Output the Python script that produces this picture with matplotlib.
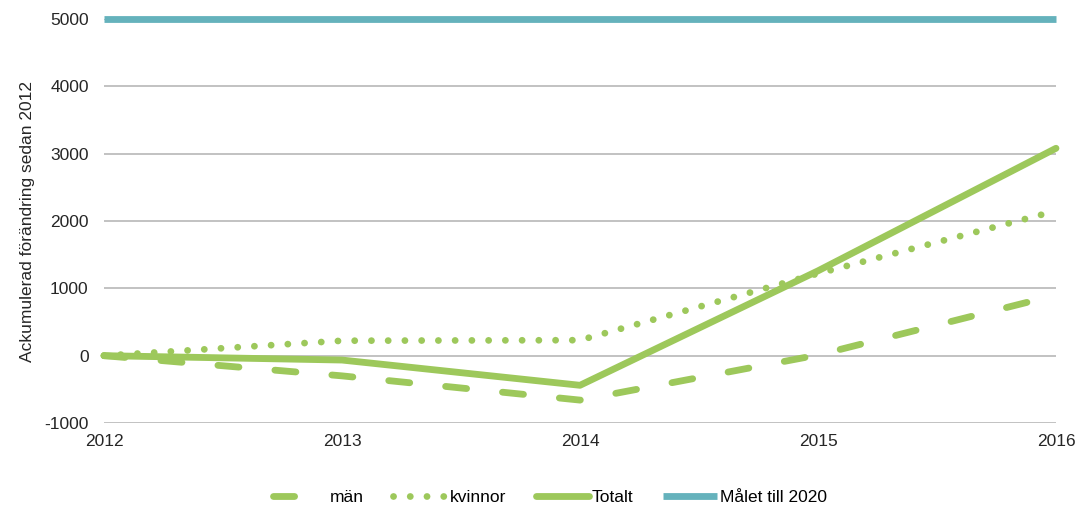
import matplotlib.pyplot as plt
import numpy as np

plt.rcParams['font.family'] = ['Liberation Sans', 'DejaVu Sans']
plt.rcParams['axes.unicode_minus'] = False

# data
years = [2012, 2013, 2014, 2015, 2016]
man = [0, -300, -660, 10, 900]
kvinnor = [0, 222, 230, 1220, 2150]
totalt = [0, -65, -440, 1260, 3080]
malet = [5000, 5000, 5000, 5000, 5000]

green = '#9DC85B'
teal = '#65B2BC'
txt = '#262626'

fig = plt.figure(figsize=(10.82, 5.11), dpi=100)
ax = fig.add_axes([104/1082, 1-423/511, (1056-104)/1082, (423-19)/511])

lw = 4.9
l1, = ax.plot(years, man, color=green, lw=lw, solid_capstyle='round',
              dash_capstyle='round', dashes=(3.1, 5.3), label='män', clip_on=False)
l2, = ax.plot(years, kvinnor, color=green, lw=lw, dash_capstyle='round',
              dashes=(0.01, 2.45), label='kvinnor', clip_on=False)
l3, = ax.plot(years, totalt, color=green, lw=lw, solid_capstyle='round',
              label='Totalt', clip_on=False)
l4, = ax.plot(years, malet, color=teal, lw=lw, solid_capstyle='butt',
              label='Målet till 2020', clip_on=False)

ax.set_xlim(2012, 2016)
ax.set_ylim(-1000, 5000)
ax.set_xticks(years)
ax.set_yticks(np.arange(-1000, 5001, 1000))
ax.grid(axis='y', color='#C2C2C2', lw=1.4)
ax.set_axisbelow(True)
for s in ax.spines.values():
    s.set_visible(False)
ax.tick_params(axis='both', length=0, labelsize=12.5, colors=txt)
ax.tick_params(axis='y', pad=11)
ax.tick_params(axis='x', pad=8)
ax.set_ylabel('Ackumulerad förändring sedan 2012', fontsize=12.5, color=txt, labelpad=7)

fig.legend(handles=[l1, l2, l3, l4], loc='center', bbox_to_anchor=(550/1082, 1-497/511),
           ncol=4, frameon=False, fontsize=12.5, handlelength=3.1, handletextpad=0.15,
           columnspacing=1.7)

fig.savefig('out.png', dpi=100)
